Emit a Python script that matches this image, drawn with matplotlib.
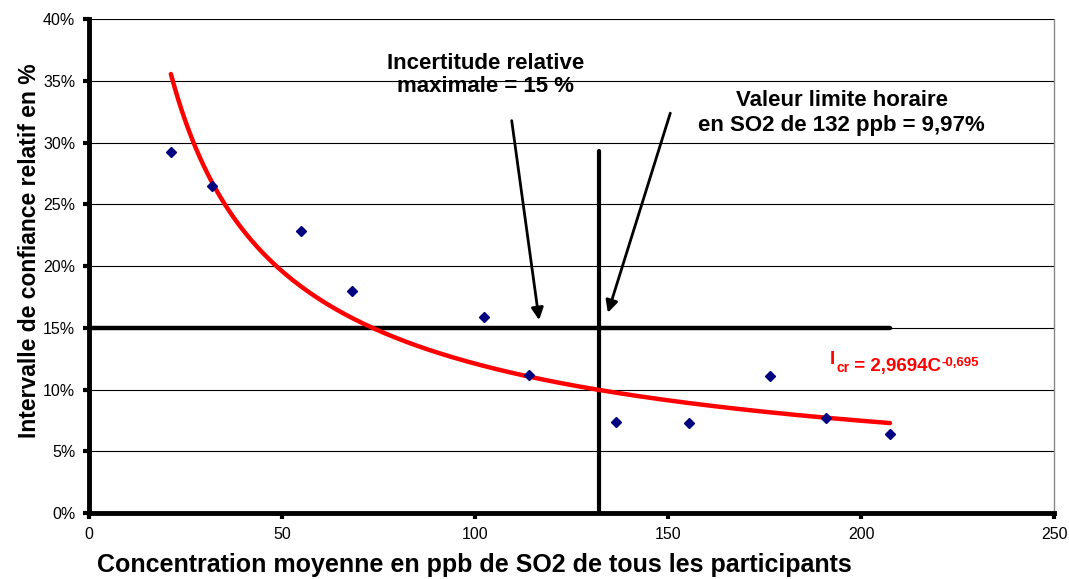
import numpy as np
import matplotlib.pyplot as plt
from matplotlib.ticker import PercentFormatter

plt.rcParams['font.family'] = ['Liberation Sans', 'DejaVu Sans']

# mean SO2 concentration (ppb) and relative confidence interval
conc = [21.2, 31.8, 55.0, 68.2, 102.3, 114.1, 136.6, 155.4, 176.4, 191.0, 207.5]
ic_rel = [0.292, 0.265, 0.228, 0.180, 0.159, 0.112, 0.074, 0.073, 0.111, 0.077, 0.064]

# power trend line I = a * C^b
coef_a = 2.9694
coef_b = -0.695

max_rel = 0.15      # maximal relative uncertainty
limit_conc = 132    # hourly limit value in ppb

fig = plt.figure(figsize=(10.69, 5.79), dpi=100)
ax = fig.add_axes([0.0833, 0.114, 0.9027, 0.853])

ax.set_xlim(0, 250)
ax.set_ylim(0, 0.40)
ax.set_xticks([0, 50, 100, 150, 200, 250])
ax.set_yticks(np.arange(0, 0.401, 0.05))
ax.yaxis.set_major_formatter(PercentFormatter(1.0, decimals=0))

# grid lines
for yv in np.arange(0.05, 0.401, 0.05):
    ax.axhline(yv, color='black', lw=0.8, zorder=1)

# trend line
xs = np.linspace(min(conc), max(conc), 200)
ax.plot(xs, coef_a * xs ** coef_b, color='red', lw=3.2, solid_capstyle='round', zorder=3)

# measured points
ax.plot(conc, ic_rel, 'D', color='#000080', ms=5, zorder=4)

# 15 % line and limit value line
ax.plot([0, max(conc)], [max_rel, max_rel], color='black', lw=3.2, solid_capstyle='round', zorder=2)
ax.plot([limit_conc, limit_conc], [0, 0.293], color='black', lw=3.0, solid_capstyle='round', zorder=2)

# annotations
ax.text(102.7, 0.355, 'Incertitude relative\nmaximale = 15 %', ha='center', va='center',
        fontsize=16, fontweight='bold', linespacing=1.12)
ax.text(195.0, 0.324, 'Valeur limite horaire\nen SO2 de 132 ppb = 9,97%', ha='center', va='center',
        fontsize=16, fontweight='bold', linespacing=1.2)
ax.annotate('', xy=(116.7, 0.154), xytext=(109.4, 0.320),
            arrowprops=dict(arrowstyle='-|>', color='black', lw=2, mutation_scale=18))
ax.annotate('', xy=(134.2, 0.160), xytext=(150.8, 0.326),
            arrowprops=dict(arrowstyle='-|>', color='black', lw=2, mutation_scale=18))

# equation of the trend line
t1 = ax.text(192.0, 0.121, 'I', color='red', fontsize=13.5, fontweight='bold', va='baseline')
t2 = ax.annotate('cr', xy=(1, 0), xycoords=t1, xytext=(0.5, -3), textcoords='offset points',
                 color='red', fontsize=10, fontweight='bold', va='baseline')
t3 = ax.annotate(' = 2,9694C', xy=(1, 0), xycoords=t2, xytext=(0, 3), textcoords='offset points',
                 color='red', fontsize=13.5, fontweight='bold', va='baseline')
ax.annotate('-0,695', xy=(1, 1), xycoords=t3, xytext=(0.5, -6), textcoords='offset points',
            color='red', fontsize=9.5, fontweight='bold', va='baseline')

# frame
ax.spines['left'].set_linewidth(3.5)
ax.spines['bottom'].set_linewidth(3.5)
ax.spines['right'].set_color('#888888')
ax.spines['right'].set_linewidth(1)
ax.spines['top'].set_visible(False)
ax.tick_params(direction='out', length=4, width=3, labelsize=11.5, pad=6)

ax.set_xlabel('Concentration moyenne en ppb de SO2 de tous les participants',
              fontsize=18, fontweight='bold')
ax.xaxis.set_label_coords(0.399, -0.081)
ax.set_ylabel('Intervalle de confiance relatif en %', fontsize=16.5, fontweight='bold')
ax.yaxis.set_label_coords(-0.05, 0.532)

fig.savefig('out.png', dpi=100)
